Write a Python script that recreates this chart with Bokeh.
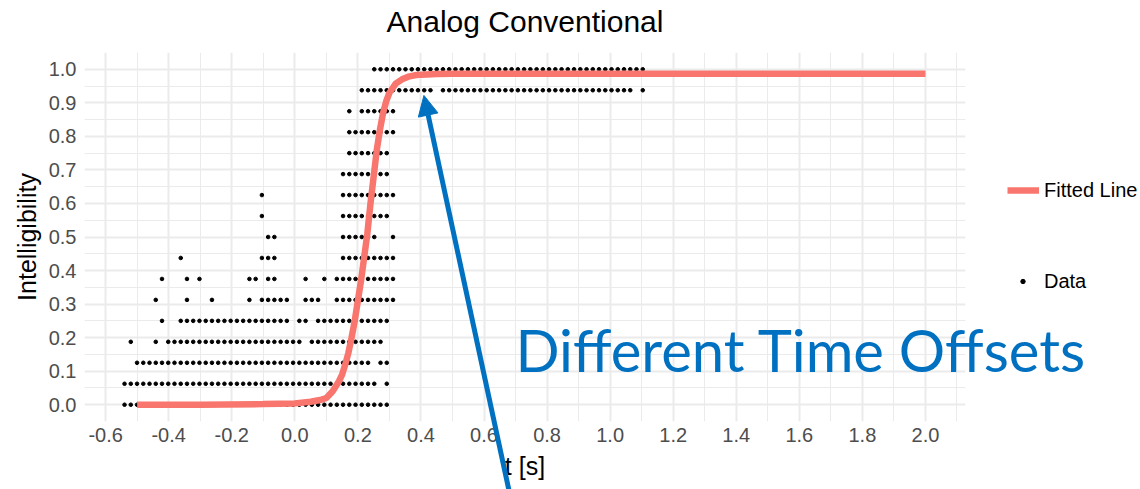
from bokeh.plotting import figure
from bokeh.models import (ColumnDataSource, Range1d, FixedTicker, Legend, LegendItem,
                          Label, Arrow, NormalHead, NumeralTickFormatter, GridBox)
from bokeh.embed import file_html
from bokeh.resources import INLINE

# ---------------- data ----------------
title = "Analog Conventional"
x_label = "t [s]"
y_label = "Intelligibility"
x_ticks = [-0.6, -0.4, -0.2, 0.0, 0.2, 0.4, 0.6, 0.8, 1.0, 1.2, 1.4, 1.6, 1.8, 2.0]
x_minor = [-0.5, -0.3, -0.1, 0.1, 0.3, 0.5, 0.7, 0.9, 1.1, 1.3, 1.5, 1.7, 1.9, 2.1]
y_ticks = [0.0, 0.1, 0.2, 0.3, 0.4, 0.5, 0.6, 0.7, 0.8, 0.9, 1.0]
y_minor = [-0.05, 0.05, 0.15, 0.25, 0.35, 0.45, 0.55, 0.65, 0.75, 0.85, 0.95, 1.05]

# time-offset sampling grid of the data points (s)
t_first = -0.54
t_step = 0.0198
t_count = 84

# intelligibility levels (multiples of 1/16)
levels = [0.0, 0.0625, 0.125, 0.1875, 0.25, 0.3125, 0.375, 0.4375, 0.5,
          0.5625, 0.625, 0.6875, 0.75, 0.8125, 0.875, 0.9375, 1.0]

# for every level: runs (first, last) of grid indices where a data point is present
runs_000 = [(0, 42)]
runs_006 = [(0, 40), (42, 42)]
runs_012 = [(2, 39), (41, 42)]
runs_019 = [(1, 1), (5, 5), (7, 28), (30, 41)]
runs_025 = [(6, 6), (9, 26), (28, 29), (31, 42)]
runs_031 = [(5, 5), (10, 10), (14, 14), (20, 20), (22, 26), (29, 31), (34, 43)]
runs_038 = [(6, 6), (10, 10), (12, 12), (20, 21), (23, 24), (29, 29), (32, 32), (34, 43)]
runs_044 = [(9, 9), (22, 24), (35, 43)]
runs_050 = [(23, 24), (35, 40), (43, 43)]
runs_056 = [(22, 22), (35, 42)]
runs_062 = [(22, 22), (35, 43)]
runs_069 = [(35, 42)]
runs_075 = [(36, 42)]
runs_081 = [(36, 43)]
runs_088 = [(36, 36), (38, 43)]
runs_094 = [(38, 49), (51, 81), (83, 83)]
runs_100 = [(40, 83)]
level_runs = [runs_000, runs_006, runs_012, runs_019, runs_025, runs_031, runs_038,
              runs_044, runs_050, runs_056, runs_062, runs_069, runs_075, runs_081,
              runs_088, runs_094, runs_100]

# fitted line, read at sample times
fit_t = [-0.5, -0.3, -0.1, 0.0, 0.05, 0.08, 0.10, 0.12, 0.14, 0.15, 0.16, 0.17, 0.18,
         0.19, 0.20, 0.21, 0.22, 0.23, 0.24, 0.25, 0.26, 0.27, 0.28, 0.29, 0.30, 0.32,
         0.34, 0.36, 0.38, 0.40, 0.45, 0.50, 0.60, 1.00, 2.00]
fit_y = [0.0, 0.0, 0.002, 0.004, 0.009, 0.014, 0.02, 0.04, 0.07, 0.09, 0.12, 0.155, 0.2,
         0.25, 0.31, 0.37, 0.44, 0.51, 0.60, 0.68, 0.76, 0.82, 0.87, 0.905, 0.93, 0.957,
         0.970, 0.978, 0.982, 0.984, 0.986, 0.987, 0.987, 0.987, 0.987]

annot_text = "Different Time Offsets"
legend_labels = ["Fitted Line", "Data"]

# ---------------- geometry ----------------
W, H = 1140, 489
FX0, FX1 = 84, 965          # panel left / right (px)
FY0, FY1 = 52, 421          # panel top / bottom (px)
X_LO, X_HI = -0.667, 2.127
Y_LO, Y_HI = -0.05, 1.05

RED = "#F8766D"
BLUE = "#0070C0"
GRID = "#EBEBEB"
FONT = "Liberation Sans"

# ---------------- build point table ----------------
t_grid = [round(t_first + t_step * k, 4) for k in range(t_count)]
px, py = [], []
for lev, runs in zip(levels, level_runs):
    for a, b in runs:
        for k in range(a, b + 1):
            px.append(t_grid[k])
            py.append(lev)
pts = ColumnDataSource(dict(t=px, v=py))
fit = ColumnDataSource(dict(t=fit_t, v=fit_y))

# ---------------- main chart ----------------
p = figure(width=W, height=H, output_backend="svg", toolbar_location=None,
           x_range=Range1d(X_LO, X_HI), y_range=Range1d(Y_LO, Y_HI),
           min_border_left=FX0, min_border_right=W - FX1, min_border_top=FY0,
           min_border_bottom=H - FY1)
p.frame_align = False
p.outline_line_color = None
p.border_fill_color = "white"
p.background_fill_color = "white"

p.xaxis.ticker = FixedTicker(ticks=x_ticks, minor_ticks=x_minor)
p.yaxis.ticker = FixedTicker(ticks=y_ticks, minor_ticks=y_minor)
p.xaxis.formatter = NumeralTickFormatter(format="0.0")
p.yaxis.formatter = NumeralTickFormatter(format="0.0")
p.xaxis.axis_label = x_label
p.yaxis.axis_label = y_label
for ax in (p.xaxis[0], p.yaxis[0]):
    ax.axis_line_color = None
    ax.major_tick_line_color = None
    ax.minor_tick_line_color = None
    ax.major_tick_out = 0
    ax.major_tick_in = 0
    ax.minor_tick_out = 0
    ax.minor_tick_in = 0
    ax.major_label_text_font = FONT
    ax.major_label_text_font_size = "20px"
    ax.major_label_text_color = "#4D4D4D"
    ax.axis_label_text_font = FONT
    ax.axis_label_text_font_size = "25px"
    ax.axis_label_text_font_style = "normal"
    ax.axis_label_text_color = "black"
p.xaxis.major_label_standoff = 6
p.xaxis.axis_label_standoff = 7
p.yaxis.major_label_standoff = 8
p.yaxis.axis_label_standoff = 5

for g in (p.xgrid[0], p.ygrid[0]):
    g.grid_line_color = GRID
    g.grid_line_width = 2
    g.minor_grid_line_color = GRID
    g.minor_grid_line_width = 1

p.scatter("t", "v", source=pts, size=3.6, color="black")
p.line("t", "v", source=fit, line_width=6.5, color=RED, line_cap="butt")

# ---------------- transparent overlay (title, legend, annotation), same data mapping ----------------
sx = (FX1 - FX0) / (X_HI - X_LO)
sy = (FY1 - FY0) / (Y_HI - Y_LO)
QX0, QX1 = X_LO - FX0 / sx, X_HI + (W - FX1) / sx
QY0, QY1 = Y_LO - (H - FY1) / sy, Y_HI + FY0 / sy
q = figure(width=W, height=H, output_backend="svg", toolbar_location=None,
           x_range=Range1d(QX0, QX1), y_range=Range1d(QY0, QY1),
           x_axis_location=None, y_axis_location=None, min_border=0)
q.frame_align = False
q.grid.visible = False
q.outline_line_color = None
q.background_fill_alpha = 0
q.border_fill_alpha = 0

# legend key renderers (kept outside the visible area; they only supply the key glyphs)
k_line = q.line([QX0 - 1, QX0 - 0.5], [QY0 - 1, QY0 - 1], line_width=6.5, color=RED,
                line_cap="butt")
k_pts = q.scatter([QX0 - 1], [QY0 - 1], size=4.2, color="black")

common = dict(border_line_color=None, background_fill_alpha=0, padding=0, margin=0,
              spacing=0, glyph_height=24, label_height=24,
              label_text_font=FONT, label_text_font_size="20px",
              label_text_color="black")
q.add_layout(Legend(items=[LegendItem(label=legend_labels[0], renderers=[k_line])],
                    location=(1007, 287), glyph_width=32, label_standoff=5, **common))
q.add_layout(Legend(items=[LegendItem(label=legend_labels[1], renderers=[k_pts])],
                    location=(1017, 196), glyph_width=11, label_standoff=16, **common))

# chart title, centred over the panel
q.add_layout(Label(x=(X_LO + X_HI) / 2, y=Y_HI + (FY0 - 21) / sy, text=title,
                   text_font=FONT, text_font_size="30px", text_color="black",
                   text_align="center", text_baseline="middle"))

q.add_layout(Label(x=0.700, y=0.1643, text=annot_text, text_font="Lato",
                   text_font_size="58px", text_color=BLUE, text_baseline="middle"))
q.add_layout(Arrow(end=NormalHead(size=20, fill_color=BLUE, line_color=BLUE, line_width=1),
                   x_start=0.683, y_start=-0.272, x_end=0.4095, y_end=0.922,
                   line_color=BLUE, line_width=5))

layout = GridBox(children=[(p, 0, 0), (q, 0, 0)])
open("out.html", "w").write(file_html(layout, INLINE))
